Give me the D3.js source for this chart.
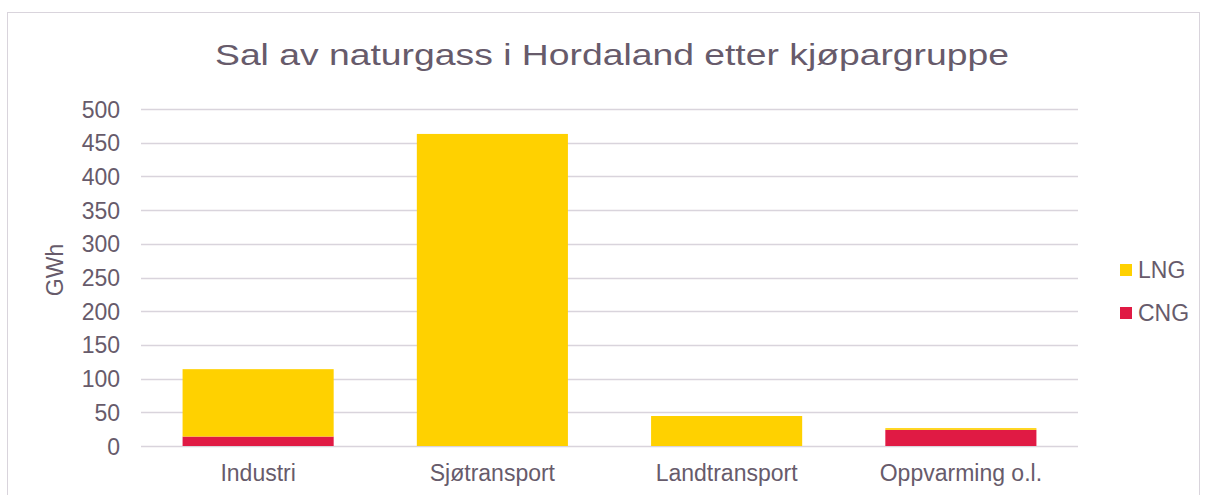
<!DOCTYPE html>
<html><head><meta charset="utf-8">
<script src="https://cdn.jsdelivr.net/npm/d3@7"></script>
<style>body{margin:0;background:#fff;} svg{display:block;}</style>
</head><body>
<svg id="c" width="1205" height="495"></svg>
<script>
const categories = ["Industri", "Sjøtransport", "Landtransport", "Oppvarming o.l."];
const seriesNames = ["CNG", "LNG"];
const cngValues = [14, 0, 0, 24];
const lngValues = [100, 463, 44.5, 2.5];
const yTicks = [0, 50, 100, 150, 200, 250, 300, 350, 400, 450, 500];
const colors = {LNG: "#ffd100", CNG: "#e01a44"};
const textColor = "#675b6b";
const FONT = "Liberation Sans, Arial, sans-serif";

(function () {
const svg = d3.select("#c");
svg.append("rect").attr("x", 7.5).attr("y", 12.5).attr("width", 1192).attr("height", 500)
  .attr("fill", "#fff").attr("stroke", "#d9d4dc").attr("stroke-width", 1);

const pL = 141, pR = 1078, pT = 109, pB = 446;
const x = d3.scaleBand().domain(categories).range([pL, pR]).paddingInner(0.355).paddingOuter(0.1775);
const y = d3.scaleLinear().domain([0, 500]).range([pB, pT]);

svg.append("g").selectAll("line").data(yTicks).join("line")
  .attr("x1", pL).attr("x2", pR)
  .attr("y1", d => Math.round(y(d)) + 0.5).attr("y2", d => Math.round(y(d)) + 0.5)
  .attr("stroke", "#d9d4dc").attr("stroke-width", 1.3);

const data = categories.map((c, i) => ({cat: c, CNG: cngValues[i], LNG: lngValues[i]}));
const stack = d3.stack().keys(seriesNames)(data);
svg.append("g").selectAll("g").data(stack).join("g").attr("fill", s => colors[s.key])
  .selectAll("rect").data(s => s).join("rect")
  .attr("x", d => x(d.data.cat)).attr("width", x.bandwidth())
  .attr("y", d => y(d[1])).attr("height", d => y(d[0]) - y(d[1]));

const yAxis = d3.axisLeft(y).tickValues(yTicks).tickSize(0).tickPadding(0);
const ga = svg.append("g").attr("transform", `translate(${pL - 21},0)`).call(yAxis);
ga.select(".domain").remove();
ga.selectAll("text").attr("fill", textColor).attr("dy", "0.35em").style("font-family", FONT).style("font-size", "23px");

const xAxis = d3.axisBottom(x).tickSize(0).tickPadding(0);
const gx = svg.append("g").attr("transform", `translate(0,${pB})`).call(xAxis);
gx.select(".domain").remove();
gx.selectAll("text").attr("fill", textColor).attr("y", 35).attr("dy", 0).style("font-family", FONT).style("font-size", "23px");

svg.append("text").attr("x", 612).attr("y", 65).attr("text-anchor", "middle")
  .attr("textLength", 794).attr("lengthAdjust", "spacingAndGlyphs")
  .attr("fill", textColor).style("font-family", FONT).style("font-size", "30px")
  .text("Sal av naturgass i Hordaland etter kjøpargruppe");

svg.append("text").attr("transform", "translate(63,270) rotate(-90)").attr("text-anchor", "middle")
  .attr("fill", textColor).style("font-family", FONT).style("font-size", "23px")
  .text("GWh");

const legendItems = ["LNG", "CNG"];
const lg = svg.append("g").selectAll("g").data(legendItems).join("g")
  .attr("transform", (d, i) => `translate(1120,${264 + i * 43})`);
lg.append("rect").attr("width", 12).attr("height", 12).attr("fill", d => colors[d]);
lg.append("text").attr("x", 18).attr("y", 14).attr("fill", textColor)
  .style("font-family", FONT).style("font-size", "23px").text(d => d);
})();
</script>
</body></html>
